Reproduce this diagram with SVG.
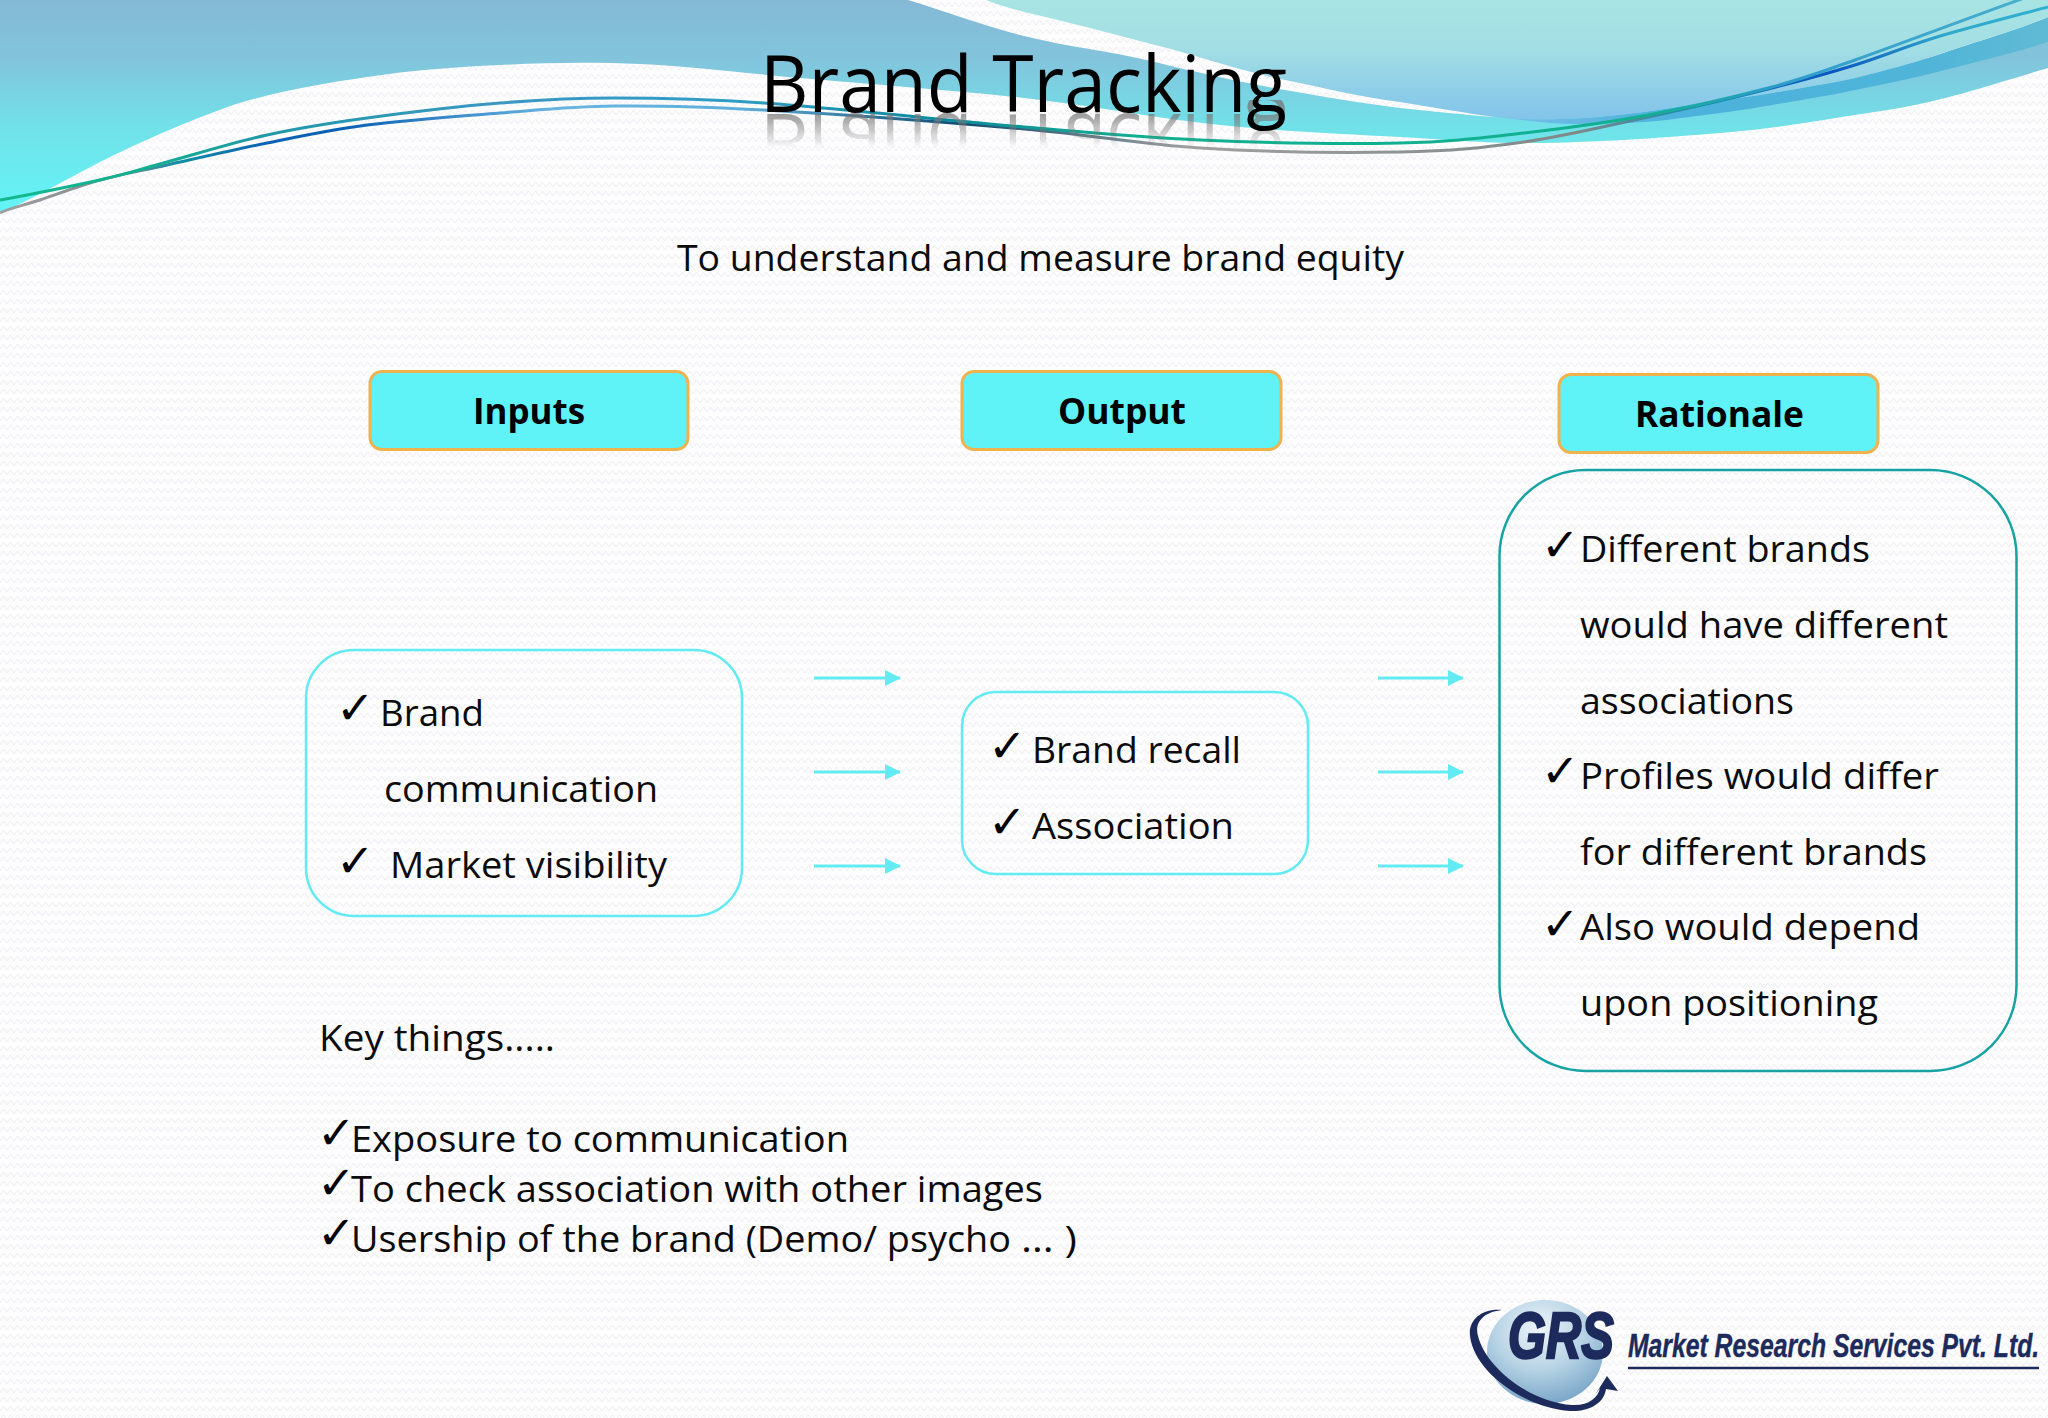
<svg xmlns="http://www.w3.org/2000/svg" width="2048" height="1418" viewBox="0 0 2048 1418">
<defs>
<style>
text{font-family:"Open Sans","Noto Sans","Liberation Sans",sans-serif;fill:#0c0c0c}
.b{font-size:36px;}
.h{font-size:36px;font-weight:700;fill:#000}
.c{font-family:"DejaVu Sans",sans-serif;font-size:46px;fill:#000}
.hd{fill:#5ff3f7;stroke:#f0b24e;stroke-width:3}
.ln{fill:none;stroke:#62ebf2;stroke-width:2.500}
.ar{stroke:#62ebf2;stroke-width:3;fill:none;marker-end:url(#ah)}
</style>
<pattern id="bg" width="14" height="9" patternUnits="userSpaceOnUse"><path d="M0 7L3.500 2L7 7L10.500 2L14 7" fill="none" stroke="#eeeef4" stroke-width="1"/></pattern>
<marker id="ah" viewBox="0 0 16 16" refX="15" refY="8" markerWidth="16" markerHeight="16" markerUnits="userSpaceOnUse" orient="auto"><path d="M0 0L16 8L0 16Z" fill="#62ebf2"/></marker>
<linearGradient id="ga" gradientUnits="userSpaceOnUse" x1="0" y1="0" x2="0" y2="213"><stop offset="0" stop-color="#84b9d6"/><stop offset=".28" stop-color="#82c4dc"/><stop offset=".58" stop-color="#72e0e8"/><stop offset="1" stop-color="#62f5f7"/></linearGradient>
<linearGradient id="gb" gradientUnits="userSpaceOnUse" x1="0" y1="0" x2="0" y2="120"><stop offset="0" stop-color="#a9e4e3"/><stop offset=".4" stop-color="#a2dee4"/><stop offset="1" stop-color="#82c3ea"/></linearGradient>
<linearGradient id="gd" gradientUnits="userSpaceOnUse" x1="1500" y1="0" x2="2048" y2="0"><stop offset="0" stop-color="#78bde9"/><stop offset=".3" stop-color="#4db2dc"/><stop offset=".75" stop-color="#4fb4d8"/><stop offset="1" stop-color="#60bad4"/></linearGradient>
<linearGradient id="l1" gradientUnits="userSpaceOnUse" x1="0" y1="0" x2="2048" y2="0"><stop offset="0" stop-color="#12b88e"/><stop offset=".07" stop-color="#12b090"/><stop offset=".13" stop-color="#1f98a8"/><stop offset=".25" stop-color="#3c98c4"/><stop offset=".36" stop-color="#2f9dc4"/><stop offset=".46" stop-color="#0c8a9c"/><stop offset=".56" stop-color="#10b090"/><stop offset=".8" stop-color="#10b090"/><stop offset=".87" stop-color="#2f9ccc"/><stop offset="1" stop-color="#4ab0cc"/></linearGradient>
<linearGradient id="l2" gradientUnits="userSpaceOnUse" x1="0" y1="0" x2="2048" y2="0"><stop offset="0" stop-color="#a0a0a0"/><stop offset=".05" stop-color="#808c8c"/><stop offset=".09" stop-color="#108ca8"/><stop offset=".13" stop-color="#0b62b4"/><stop offset=".17" stop-color="#0b62b4"/><stop offset=".27" stop-color="#68b4e0"/><stop offset=".36" stop-color="#60b0dc"/><stop offset=".47" stop-color="#104c70"/><stop offset=".58" stop-color="#a0a0a0"/><stop offset=".77" stop-color="#808888"/><stop offset=".83" stop-color="#108cb0"/><stop offset=".895" stop-color="#0b56c0"/><stop offset=".95" stop-color="#30a8cc"/><stop offset="1" stop-color="#30b0d0"/></linearGradient>
<linearGradient id="fade" gradientUnits="userSpaceOnUse" x1="0" y1="113" x2="0" y2="148"><stop offset="0" stop-color="#fff" stop-opacity=".75"/><stop offset="1" stop-color="#fff" stop-opacity="0"/></linearGradient>
<mask id="fm" maskUnits="userSpaceOnUse" x="700" y="100" width="650" height="60"><rect x="700" y="100" width="650" height="60" fill="url(#fade)"/></mask>
<radialGradient id="gl" cx=".45" cy=".28" r=".8"><stop offset="0" stop-color="#eef5f9"/><stop offset=".5" stop-color="#b5d2e4"/><stop offset="1" stop-color="#6d9cc2"/></radialGradient>
</defs>
<rect width="2048" height="1418" fill="#fdfdfe"/>
<rect width="2048" height="1418" fill="url(#bg)"/>
<g id="swoosh">
<path fill="url(#ga)" d="M0 213C25 203 65 180 100 162C139 142 188.500 121 233 105C277.500 91 322.500 83.700 367 77C411.500 70.300 454.500 67.200 500 65C545.500 62.800 590 61.800 640 64C690 66.200 736 72.300 800 78C864 83.700 954 90.200 1024 98C1094 105.800 1157.300 118.500 1220 125C1282.700 131.500 1345.800 134 1400 137C1454.200 140 1489.800 143.800 1545 143C1600.200 142.200 1679.300 136.700 1731 132C1782.700 127.300 1820.700 120.300 1855 115C1889.300 109.700 1904.800 107.800 1937 100C1969.200 92.200 2029.500 73.300 2048 68L2048 42L1495 117C1465 115 1432 111 1400 108C1360 103 1325 97 1285 90C1240 82 1200 73 1155 62C1110 51 1068 47 1024 36C985 26 950 13 908 0L0 0Z"/>
<path fill="url(#gd)" d="M1495 117C1520 119.500 1550 124 1578 124C1595 124.500 1610 124 1627 123C1650 122 1668 120 1689 117C1718 113 1745 110 1772 105C1800 100 1828 96 1855 90C1883 84 1910 79 1937 72C1975 62 2012 54 2048 42L2048 17C2012 32 1975 42 1937 55C1910 64 1883 71 1855 78C1828 84 1800 88 1772 93C1745 98 1717 100 1689 105C1650 112 1600 118 1560 119C1535 119.500 1515 119 1495 117Z"/>
<path fill="url(#gb)" d="M986 0C998 5 1010 8 1024 12C1068 22 1110 33 1155 45C1200 56 1240 71 1285 80C1325 88 1360 97 1400 102C1432 107 1465 113 1495 117C1515 119 1535 119.500 1560 119C1600 118 1650 112 1689 105C1717 100 1745 98 1772 93C1800 88 1828 84 1855 78C1883 71 1910 64 1937 55C1975 42 2012 32 2048 17L2048 0Z"/>
<path fill="none" stroke="url(#l2)" stroke-width="3" d="M0 213C7 208.700 23.300 205.500 40 200C56.700 194.500 78.800 185.800 100 180C121.200 174.200 139.200 171.200 167 165C194.800 158.800 233.700 149.700 267 143C300.300 136.300 328.200 130 367 125C405.800 120 458.800 116.200 500 113C541.200 109.800 570 106.500 614 106C658 105.500 695.700 106.200 764 110C832.300 113.800 951.300 122.700 1024 129C1096.700 135.300 1137.300 144.200 1200 148C1262.700 151.800 1346 153 1400 152C1454 151 1482.700 147.800 1524 142C1565.300 136.200 1606.700 126 1648 117C1689.300 108 1737.500 96.700 1772 88C1806.500 79.300 1827.500 73.500 1855 65C1882.500 56.500 1904.800 46.700 1937 37C1969.200 27.300 2029.500 12 2048 7"/>
<path fill="none" stroke="url(#l1)" stroke-width="3" d="M0 200C17 197 72 186 100 180C127.800 173.700 139 169.500 167 162C194.800 154.500 233.700 142.300 267 135C300.300 127.700 328 123.300 367 118C405.800 112.700 458.800 106.300 500 103C541 99.700 570 98 614 98C658 98 695.700 98.200 764 103C832.300 107.800 951.300 120.800 1024 127C1096.700 133.200 1137.300 137.300 1200 140C1262.700 142.700 1346 144.200 1400 143C1454 141.800 1482.700 137.700 1524 133C1565.300 128.300 1606.700 122.700 1648 115C1689.300 107.300 1737.500 96.200 1772 87C1806.500 77.800 1812 75.200 1855 60C1898 44.800 1990 10 2030 -4"/>
</g>
<g id="title">
<g fill="#777" mask="url(#fm)"><use href="#titleText" transform="translate(0 226) scale(1 -1)"/></g>
<text id="titleText" x="760" y="112" font-size="78" textLength="527" lengthAdjust="spacingAndGlyphs" style="fill:inherit">Brand Tracking</text>
</g>
<g id="subtitle"><text class="b" x="677" y="271" textLength="727" lengthAdjust="spacingAndGlyphs">To understand and measure brand equity</text></g>
<g id="connectors">
<path class="ar" d="M814 678H900"/><path class="ar" d="M814 772H900"/><path class="ar" d="M814 866H900"/>
<path class="ar" d="M1378 678H1463"/><path class="ar" d="M1378 772H1463"/><path class="ar" d="M1378 866H1463"/>
</g>
<g id="inputs"><rect class="hd" x="370" y="371.500" width="318" height="78" rx="12"/><text class="h" x="473" y="424" textLength="112" lengthAdjust="spacingAndGlyphs">Inputs</text></g>
<g id="output"><rect class="hd" x="962" y="371.500" width="319" height="78" rx="12"/><text class="h" x="1058" y="424" textLength="128" lengthAdjust="spacingAndGlyphs">Output</text></g>
<g id="rationale"><rect class="hd" x="1559" y="374.500" width="319" height="78" rx="12"/><text class="h" x="1635" y="427" textLength="169" lengthAdjust="spacingAndGlyphs">Rationale</text></g>
<g id="inputs-list"><rect class="ln" x="306" y="650" width="436" height="266" rx="48"/>
<text class="c" x="336" y="724">✓</text><text class="b" x="380" y="726" textLength="104" lengthAdjust="spacingAndGlyphs">Brand</text>
<text class="b" x="384" y="802" textLength="274" lengthAdjust="spacingAndGlyphs">communication</text>
<text class="c" x="336" y="877">✓</text><text class="b" x="390" y="878" textLength="277" lengthAdjust="spacingAndGlyphs">Market visibility</text></g>
<g id="output-list"><rect class="ln" x="962" y="692" width="346" height="182" rx="34"/>
<text class="c" x="988" y="762">✓</text><text class="b" x="1032" y="763" textLength="209" lengthAdjust="spacingAndGlyphs">Brand recall</text>
<text class="c" x="988" y="838">✓</text><text class="b" x="1032" y="839" textLength="202" lengthAdjust="spacingAndGlyphs">Association</text></g>
<g id="rationale-list"><rect x="1499.500" y="470" width="517" height="601" rx="86" fill="none" stroke="#17a3a3" stroke-width="2.500"/>
<text class="c" x="1541" y="561">✓</text><text class="b" x="1580" y="562" textLength="290" lengthAdjust="spacingAndGlyphs">Different brands</text>
<text class="b" x="1580" y="638" textLength="368" lengthAdjust="spacingAndGlyphs">would have different</text>
<text class="b" x="1580" y="714" textLength="214" lengthAdjust="spacingAndGlyphs">associations</text>
<text class="c" x="1541" y="787">✓</text><text class="b" x="1580" y="789" textLength="359" lengthAdjust="spacingAndGlyphs">Profiles would differ</text>
<text class="b" x="1580" y="865" textLength="347" lengthAdjust="spacingAndGlyphs">for different brands</text>
<text class="c" x="1541" y="940">✓</text><text class="b" x="1580" y="940" textLength="340" lengthAdjust="spacingAndGlyphs">Also would depend</text>
<text class="b" x="1580" y="1016" textLength="298" lengthAdjust="spacingAndGlyphs">upon positioning</text></g>
<g id="key-things"><text class="b" x="319" y="1051" textLength="236" lengthAdjust="spacingAndGlyphs">Key things.....</text>
<text class="c" x="317" y="1149">✓</text><text class="b" x="351" y="1152" textLength="498" lengthAdjust="spacingAndGlyphs">Exposure to communication</text>
<text class="c" x="317" y="1199">✓</text><text class="b" x="351" y="1202" textLength="692" lengthAdjust="spacingAndGlyphs">To check association with other images</text>
<text class="c" x="317" y="1249">✓</text><text class="b" x="351" y="1252"><tspan x="351" textLength="660" lengthAdjust="spacingAndGlyphs">Usership of the brand (Demo/ psycho</tspan> <tspan x="1021" textLength="56" lengthAdjust="spacingAndGlyphs">… )</tspan></text></g>
<g id="logo">
<ellipse cx="1545" cy="1352" rx="58" ry="52" fill="url(#gl)"/>
<path d="M1502 1310C1484 1312 1474 1322 1478 1336C1486 1368 1530 1402 1572 1405C1588 1406 1598 1398 1600 1388L1595 1395L1607 1376L1618 1391L1606 1389C1604 1404 1588 1412 1570 1411C1525 1408 1474 1372 1470 1336C1468 1320 1482 1308 1502 1310Z" fill="#1d2a5c"/>
<text transform="translate(1508 1358) scale(.82 1)" font-size="64" font-weight="700" font-style="italic" textLength="129" lengthAdjust="spacingAndGlyphs" style="font-family:'Liberation Sans',sans-serif;fill:#1d2a5c;stroke:#1d2a5c;stroke-width:2.500">GRS</text>
<text transform="translate(1628 1357) scale(.72 1)" font-size="34" font-weight="700" font-style="italic" textLength="571" lengthAdjust="spacingAndGlyphs" style="font-family:'Liberation Sans',sans-serif;fill:#1d2a5c;stroke:#1d2a5c;stroke-width:.4">Market Research Services Pvt. Ltd.</text>
<path d="M1628 1368H2039" stroke="#1d2a5c" stroke-width="2.500"/>
</g>
</svg>
